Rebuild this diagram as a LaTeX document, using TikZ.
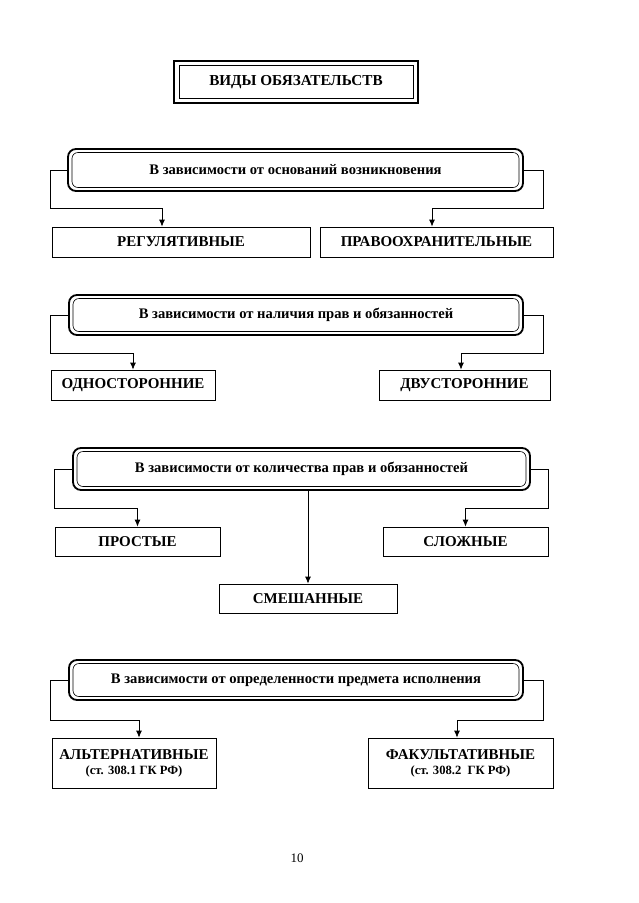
\documentclass[tikz,border=0pt]{standalone}
\usepackage{fontspec}
\setmainfont{Liberation Serif}
\usetikzlibrary{arrows.meta}
\begin{document}
\begin{tikzpicture}[x=1pt,y=-1pt,
  critout/.style={draw, line width=1.8pt, rounded corners=8pt, inner sep=0pt},
  critin/.style={draw, line width=0.6pt, rounded corners=6pt, inner sep=0pt,
    font=\fontsize{14.6}{16}\selectfont\bfseries},
  leaf/.style={draw, line width=0.8pt, inner sep=0pt, align=center,
    font=\fontsize{15}{16}\selectfont\bfseries},
  arr/.style={line width=0.8pt, -{Latex[length=7pt,width=6pt]}}
]
\useasboundingbox (0,0) rectangle (638,903);
% title
\node[draw, line width=2.6pt, minimum width=244pt, minimum height=42pt, inner sep=0pt] (title) at (296,82) {};
\node[draw, line width=0.7pt, minimum width=234pt, minimum height=33pt, inner sep=0pt,
  font=\fontsize{15.2}{16}\selectfont\bfseries] (titlet) at (296,82) {ВИДЫ ОБЯЗАТЕЛЬСТВ};

% group 1
\node[critout, minimum width=455pt, minimum height=42pt] (c1) at (295.5,170) {};
\node[critin, minimum width=447pt, minimum height=35pt] (c1t) at (c1) {В зависимости от оснований возникновения};
\node[leaf, minimum width=258pt, minimum height=30pt] (r1) at (181,242) {РЕГУЛЯТИВНЫЕ};
\node[leaf, minimum width=233pt, minimum height=30pt] (p1) at (436.5,242) {ПРАВООХРАНИТЕЛЬНЫЕ};
\draw[arr] (c1.west) -- ++(-17,0) -- ++(0,38) -| ([xshift=-19pt]r1.north);
\draw[arr] (c1.east) -- ++(19,0) -- ++(0,38) -| ([xshift=-4.5pt]p1.north);

% group 2
\node[critout, minimum width=454pt, minimum height=40pt] (c2) at (296,315) {};
\node[critin, minimum width=446pt, minimum height=33pt] (c2t) at (c2) {В зависимости от наличия прав и обязанностей};
\node[leaf, minimum width=164pt, minimum height=30pt] (o2) at (133,385) {ОДНОСТОРОННИЕ};
\node[leaf, minimum width=171pt, minimum height=30pt] (d2) at (464.5,385) {ДВУСТОРОННИЕ};
\draw[arr] (c2.west) -- ++(-18,0) -- ++(0,38) -| (o2.north);
\draw[arr] (c2.east) -- ++(19,0) -- ++(0,38) -| ([xshift=-3.5pt]d2.north);

% group 3
\node[critout, minimum width=457pt, minimum height=42pt] (c3) at (301.5,469) {};
\node[critin, minimum width=449pt, minimum height=35pt] (c3t) at (c3) {В зависимости от количества прав и обязанностей};
\node[leaf, minimum width=165pt, minimum height=29pt] (pr3) at (137.5,541.5) {ПРОСТЫЕ};
\node[leaf, minimum width=165pt, minimum height=29pt] (sl3) at (465.5,541.5) {СЛОЖНЫЕ};
\node[leaf, minimum width=178pt, minimum height=29pt] (sm3) at (308,598.5) {СМЕШАННЫЕ};
\draw[arr] (c3.west) -- ++(-18,0) -- ++(0,39) -| (pr3.north);
\draw[arr] (c3.east) -- ++(17,0) -- ++(0,39) -| (sl3.north);
\draw[arr] (c3.south -| sm3.north) -- (sm3.north);

% group 4
\node[critout, minimum width=454pt, minimum height=40pt] (c4) at (296,680) {};
\node[critin, minimum width=446pt, minimum height=33pt] (c4t) at (c4) {В зависимости от определенности предмета исполнения};
\node[leaf, minimum width=164pt, minimum height=50pt] (al4) at (134,763) {АЛЬТЕРНАТИВНЫЕ\\[-1pt]{\fontsize{12.6}{14}\selectfont (ст. 308.1 ГК РФ)}};
\node[leaf, minimum width=185pt, minimum height=50pt] (fa4) at (460.5,763) {ФАКУЛЬТАТИВНЫЕ\\[-1pt]{\fontsize{12.6}{14}\selectfont (ст. 308.2~~ГК РФ)}};
\draw[arr] (c4.west) -- ++(-18,0) -- ++(0,40) -| ([xshift=5pt]al4.north);
\draw[arr] (c4.east) -- ++(19,0) -- ++(0,40) -| ([xshift=-3.5pt]fa4.north);

% page number
\node[font=\fontsize{13}{15}\selectfont] (pg) at (297,858) {10};
\end{tikzpicture}
\end{document}
